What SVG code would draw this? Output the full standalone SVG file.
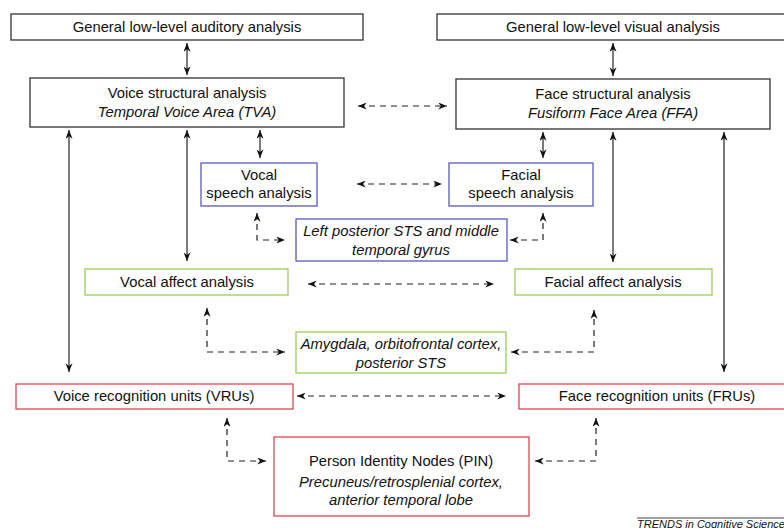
<svg xmlns="http://www.w3.org/2000/svg" width="784" height="528" viewBox="0 0 784 528">
<style>
.box{fill:#fff;stroke-width:1.3}
.k{stroke:#333}
.b{stroke:#5a5ab8}
.g{stroke:#9ccc5a}
.r{stroke:#e0464c}
text{font-family:"Liberation Sans",Arial,sans-serif;font-size:14.8px;fill:#111;text-anchor:middle}
.i{font-style:italic}
.c{fill:none;stroke:#222;stroke-width:1.2}
.d{stroke-dasharray:6 5}
.a{marker-start:url(#ah);marker-end:url(#ah)}
</style>
<defs>
<marker id="ah" viewBox="0 0 10 8" refX="10" refY="4" markerWidth="9" markerHeight="7" markerUnits="userSpaceOnUse" orient="auto-start-reverse">
<path d="M0,0 L10,4 L0,8 L3,4 Z" fill="#111"/>
</marker>
</defs>
<rect width="784" height="528" fill="#fff"/>
<g id="connectors">
<path class="c a" d="M187,43 V75"/>
<path class="c a" d="M613,43 V76"/>
<path class="c a" d="M69,130 V372"/>
<path class="c a" d="M187,130 V261"/>
<path class="c a" d="M260,130 V158"/>
<path class="c a" d="M543,132 V158"/>
<path class="c a" d="M613,132 V262"/>
<path class="c a" d="M724,132 V372"/>
<path class="c d a" d="M358,106 H447"/>
<path class="c d a" d="M357,184 H442"/>
<path class="c d a" d="M308,284 H494"/>
<path class="c d a" d="M297,396 H506"/>
<path class="c d a" d="M257,213 V240 H285"/>
<path class="c d a" d="M510,240 H543 V213"/>
<path class="c d a" d="M207,308 V352 H285"/>
<path class="c d a" d="M511,352 H594 V310"/>
<path class="c d a" d="M227,418 V461 H266"/>
<path class="c d a" d="M535,461 H596 V418"/>
</g>
<g id="aud">
<rect class="box k" x="11" y="14" width="352" height="26"/>
<text x="187" y="32">General low-level auditory analysis</text>
</g>
<g id="vis">
<rect class="box k" x="437" y="14" width="360" height="26"/>
<text x="613" y="32">General low-level visual analysis</text>
</g>
<g id="voicestruct">
<rect class="box k" x="30" y="78" width="314" height="49"/>
<text x="187" y="98">Voice structural analysis</text>
<text class="i" x="187" y="117">Temporal Voice Area (TVA)</text>
</g>
<g id="facestruct">
<rect class="box k" x="456" y="79" width="314" height="50"/>
<text x="613" y="99">Face structural analysis</text>
<text class="i" x="613" y="118">Fusiform Face Area (FFA)</text>
</g>
<g id="vocalspeech">
<rect class="box b" x="201" y="163" width="116" height="43"/>
<text x="259" y="180">Vocal</text>
<text x="259" y="198">speech analysis</text>
</g>
<g id="facialspeech">
<rect class="box b" x="449" y="163" width="144" height="43"/>
<text x="521" y="180">Facial</text>
<text x="521" y="198">speech analysis</text>
</g>
<g id="sts">
<rect class="box b" x="296" y="219" width="211" height="42"/>
<text class="i" x="401" y="236">Left posterior STS and middle</text>
<text class="i" x="401" y="255">temporal gyrus</text>
</g>
<g id="vocalaffect">
<rect class="box g" x="85" y="269" width="203" height="26"/>
<text x="187" y="287">Vocal affect analysis</text>
</g>
<g id="facialaffect">
<rect class="box g" x="515" y="269" width="197" height="26"/>
<text x="613" y="287">Facial affect analysis</text>
</g>
<g id="amygdala">
<rect class="box g" x="296" y="332" width="210" height="41"/>
<text class="i" x="401" y="349">Amygdala, orbitofrontal cortex,</text>
<text class="i" x="401" y="368">posterior STS</text>
</g>
<g id="vru">
<rect class="box r" x="16" y="384" width="277" height="25"/>
<text x="154" y="401">Voice recognition units (VRUs)</text>
</g>
<g id="fru">
<rect class="box r" x="519" y="384" width="280" height="25"/>
<text x="657" y="401">Face recognition units (FRUs)</text>
</g>
<g id="pin">
<rect class="box r" x="274" y="437" width="255" height="79"/>
<text x="401" y="466">Person Identity Nodes (PIN)</text>
<text class="i" x="401" y="487">Precuneus/retrosplenial cortex,</text>
<text class="i" x="401" y="505">anterior temporal lobe</text>
</g>
<g id="footer">
<line x1="637" y1="518" x2="784" y2="518" stroke="#444" stroke-width="1"/>
<text class="i" x="637" y="528" style="text-anchor:start;font-size:11px">TRENDS in Cognitive Sciences</text>
</g>
</svg>
